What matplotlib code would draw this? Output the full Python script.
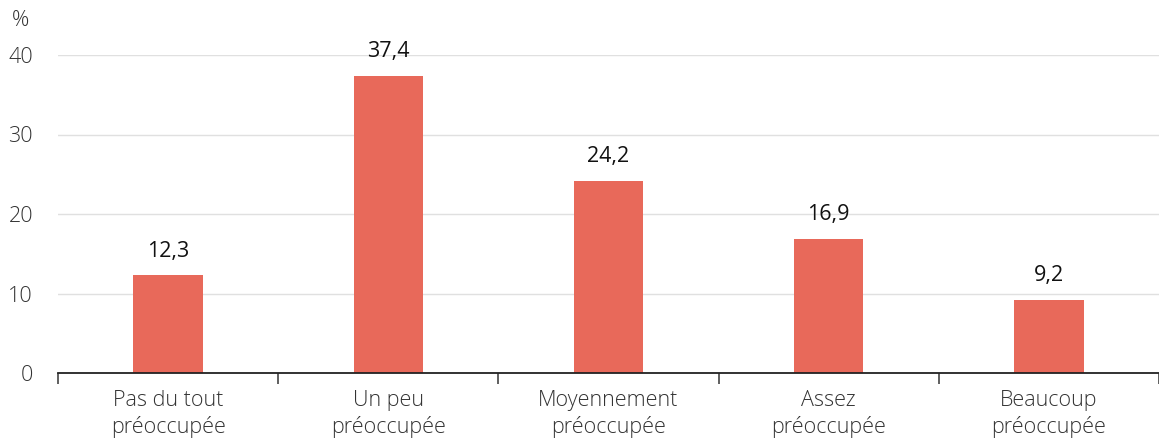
import numpy as np
import matplotlib.pyplot as plt

plt.rcParams['font.family'] = ['Open Sans', 'DejaVu Sans']

categories = ['Pas du tout\npréoccupée', 'Un peu\npréoccupée', 'Moyennement\npréoccupée',
              'Assez\npréoccupée', 'Beaucoup\npréoccupée']
values = [12.3, 37.4, 24.2, 16.9, 9.2]
yticks = [0, 10, 20, 30, 40]

fig = plt.figure(figsize=(11.59, 4.41), dpi=100)
# about 221 px per category, ticks from x=58
ax = fig.add_axes([58/1159, 68/441, (1159-58)/1159, (373-55)/441])

x = np.arange(len(categories))
ax.bar(x, values, width=0.316, color='#E8695A', zorder=3)
for xi, v in zip(x, values):
    ax.text(xi, v + 1.7, f'{v:.1f}'.replace('.', ','), ha='center', va='bottom',
            fontsize=15.5, color='#111111')

ax.set_xlim(-0.5, -0.5 + 1101/222)
ax.set_ylim(0, 40)
ax.set_yticks(yticks)
ax.set_yticklabels([str(t) for t in yticks], fontsize=15.5, color='#333333', fontweight='light')
ax.yaxis.grid(True, color='#E0E0E0', linewidth=1, zorder=0)
ax.tick_params(axis='y', length=0, pad=18)

ax.set_xticks(np.arange(-0.5, 4.6, 1.0))
ax.set_xticklabels([])
ax.set_xticks(x, minor=True)
ax.set_xticklabels(categories, minor=True, fontsize=15.5, color='#333333',
                   fontweight='light', linespacing=1.3)
ax.tick_params(axis='x', which='major', length=8, width=1.2, color='#444444', direction='out')
ax.tick_params(axis='x', which='minor', length=0, pad=12)

for s in ['top', 'right', 'left']:
    ax.spines[s].set_visible(False)
ax.spines['bottom'].set_color('#222222')
ax.spines['bottom'].set_linewidth(1.3)
ax.spines['bottom'].set_zorder(4)

fig.text(12/1159, 1 - 20/441, '%', fontsize=15.5, color='#333333', fontweight='light',
         va='center', ha='left')

fig.savefig('out.png', dpi=100)
